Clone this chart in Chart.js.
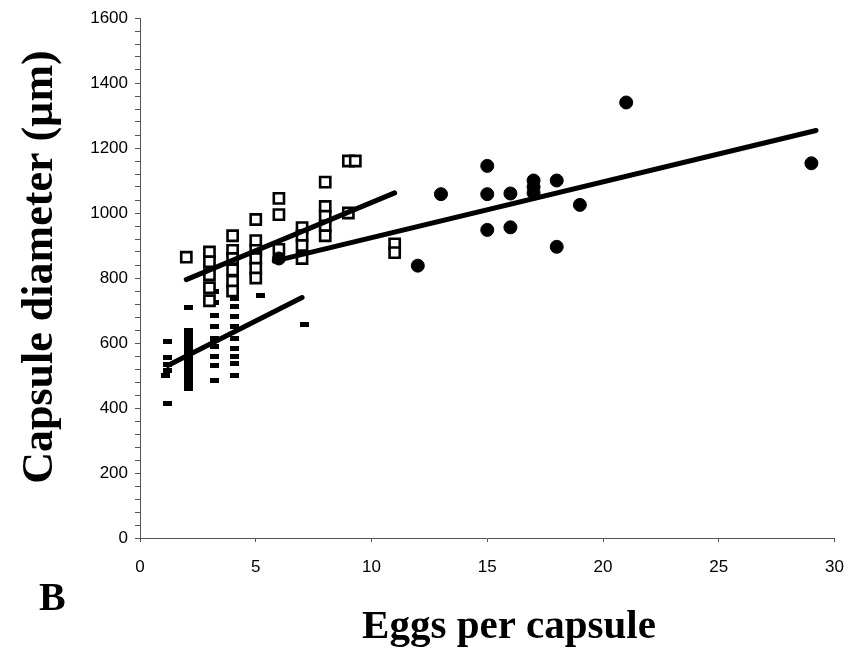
<!DOCTYPE html>
<html>
<head>
<meta charset="utf-8">
<title>Capsule diameter vs eggs per capsule</title>
<script src="https://cdn.jsdelivr.net/npm/chart.js@4.4.1/dist/chart.umd.min.js"></script>
<style>
    html, body { margin: 0; padding: 0; background: #fff; }
    #wrap { width: 859px; height: 649px; }
</style>
</head>
<body>
<div id="wrap"><canvas id="capsule-chart" width="859" height="649"></canvas></div>
<script>
// values (eggs per capsule, capsule diameter in µm)

// open squares
var openX = [2, 3, 3, 3, 3, 3, 4, 4, 4, 4, 4, 4, 5, 5, 5, 5, 5, 5, 6, 6, 6, 7, 7, 7, 7, 8, 8, 8, 8, 8, 9, 9.3, 9, 11, 11];
var openY = [864, 880, 850, 810, 770, 730, 930, 885, 860, 825, 790, 760, 980, 915, 885, 860, 830, 800, 1045, 995, 888, 955, 930, 900, 860, 1095, 1020, 990, 960, 930, 1160, 1160, 1000, 905, 878];

// small filled dashes
var dashX = [1.2, 1.2, 1.2, 1.2, 1.2, 1.1,
    2.1, 2.1, 2.1, 2.1, 2.1, 2.1, 2.1, 2.1, 2.1, 2.1, 2.1, 2.1, 2.1, 2.1,
    3.2, 3.2, 3.2, 3.2, 3.2, 3.2, 3.2, 3.2, 3.2,
    4.1, 4.1, 4.1, 4.1, 4.1, 4.1, 4.1, 4.1, 4.1, 4.1,
    5.2, 7.1];
var dashY = [604, 555, 535, 515, 414, 500,
    710, 640, 625, 610, 595, 580, 565, 550, 535, 520, 505, 490, 475, 460,
    760, 725, 686, 650, 615, 589, 558, 532, 486,
    763, 737, 712, 681, 650, 614, 583, 558, 537, 501,
    745, 658];

// filled circles
var dotX = [6, 12, 13, 15, 15, 15, 16, 16, 17, 17, 17, 18, 18, 19, 21, 29];
var dotY = [860, 838, 1058, 1145, 1058, 948, 1060, 956, 1100, 1080, 1062, 1100, 896, 1025, 1340, 1153];

// fitted lines, end points
var dashFitX = [1.2, 7];
var dashFitY = [531, 740];
var openFitX = [2, 11];
var openFitY = [795, 1062];
var dotFitX = [5.8, 29.2];
var dotFitY = [852, 1254];

// axis ticks
var xTicks = [0, 5, 10, 15, 20, 25, 30];
var yLabels = [0, 200, 400, 600, 800, 1000, 1200, 1400, 1600];

function toPoints(xs, ys) {
    var pts = [];
    for (var i = 0; i < xs.length; i++) pts.push({ x: xs[i], y: ys[i] });
    return pts;
}

// little horizontal black bar used as marker
function dashMarker() {
    var c = document.createElement('canvas');
    c.width = 9;
    c.height = 5;
    var g = c.getContext('2d');
    g.fillStyle = '#000';
    g.fillRect(0, 0, 9, 5);
    return c;
}

function fitLine(xs, ys) {
    return {
        type: 'line',
        data: toPoints(xs, ys),
        showLine: true,
        borderColor: '#000',
        borderWidth: 5,
        borderCapStyle: 'round',
        pointRadius: 0,
        fill: false
    };
}

// axis titles and panel letter
var textPlugin = {
    id: 'capsuleText',
    afterDraw: function (chart) {
        var ctx = chart.ctx;
        ctx.save();
        ctx.fillStyle = '#000';
        ctx.textBaseline = 'alphabetic';

        ctx.font = 'bold 44px "Liberation Serif", "Times New Roman", serif';
        ctx.translate(52, 267);
        ctx.rotate(-Math.PI / 2);
        ctx.textAlign = 'center';
        ctx.fillText('Capsule diameter (\u00b5m)', 0, 0);
        ctx.setTransform(1, 0, 0, 1, 0, 0);

        ctx.font = 'bold 41px "Liberation Serif", "Times New Roman", serif';
        ctx.textAlign = 'center';
        ctx.fillText('Eggs per capsule', 509, 638);

        ctx.font = 'bold 40px "Liberation Serif", "Times New Roman", serif';
        ctx.textAlign = 'left';
        ctx.fillText('B', 39, 610);
        ctx.restore();
    }
};

var ctx = document.getElementById('capsule-chart').getContext('2d');

var capsuleChart = new Chart(ctx, {
    type: 'scatter',
    data: {
        datasets: [
            fitLine(dashFitX, dashFitY),
            fitLine(openFitX, openFitY),
            fitLine(dotFitX, dotFitY),
            {
                data: toPoints(dotX, dotY),
                pointStyle: 'circle',
                pointRadius: 6.5,
                backgroundColor: '#000',
                borderColor: '#000',
                borderWidth: 1
            },
            {
                data: toPoints(openX, openY),
                pointStyle: 'rect',
                pointRadius: 7.2,
                backgroundColor: '#fff',
                borderColor: '#000',
                borderWidth: 2.6
            },
            {
                data: toPoints(dashX, dashY),
                pointStyle: dashMarker(),
                pointRadius: 5
            }
        ]
    },
    options: {
        responsive: false,
        animation: false,
        layout: { padding: { top: 18, right: 19, left: 0, bottom: 0 } },
        plugins: {
            legend: { display: false },
            tooltip: { enabled: false }
        },
        scales: {
            x: {
                type: 'linear',
                min: 0,
                max: 30,
                afterFit: function (s) { s.height = 111; },
                afterBuildTicks: function (s) {
                    s.ticks = xTicks.map(function (v) { return { value: v }; });
                },
                border: { color: '#555', width: 1 },
                grid: { drawOnChartArea: false, drawTicks: true, tickLength: 4, color: '#555' },
                ticks: {
                    padding: 15,
                    color: '#000',
                    font: { family: '"Liberation Sans", Arial, sans-serif', size: 17 }
                }
            },
            y: {
                type: 'linear',
                min: 0,
                max: 1600,
                afterFit: function (s) { s.width = 140; },
                border: { color: '#555', width: 1 },
                grid: { drawOnChartArea: false, drawTicks: true, tickLength: 5, color: '#555' },
                ticks: {
                    stepSize: 40,
                    autoSkip: false,
                    padding: 7,
                    color: '#000',
                    font: { family: '"Liberation Sans", Arial, sans-serif', size: 17 },
                    callback: function (value) {
                        return yLabels.indexOf(value) >= 0 ? String(value) : '';
                    }
                }
            }
        }
    },
    plugins: [textPlugin]
});
</script>
</body>
</html>
